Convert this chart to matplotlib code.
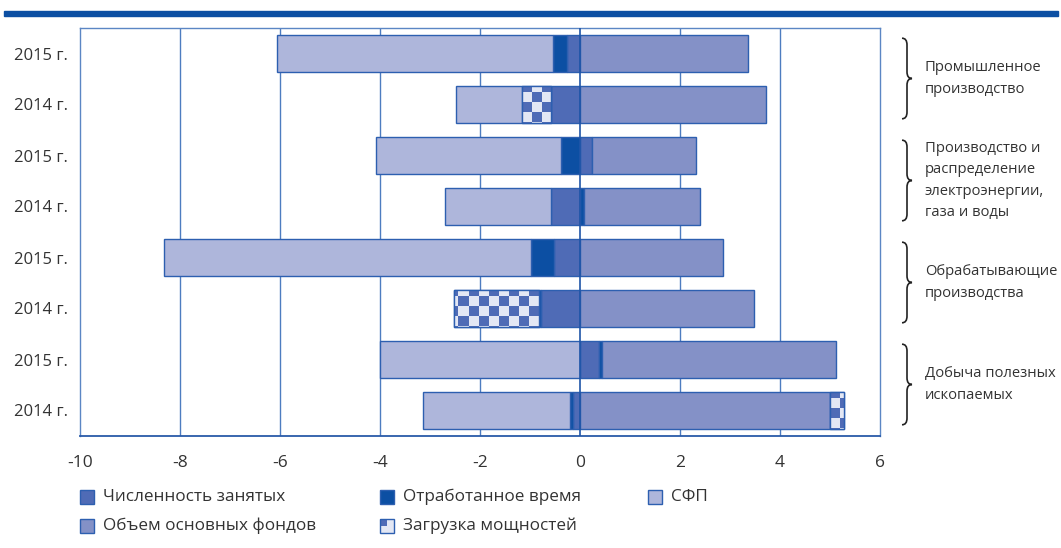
import numpy as np
import matplotlib
matplotlib.use("Agg")
import matplotlib.pyplot as plt
from matplotlib.patches import Rectangle, PathPatch
from matplotlib.path import Path
from matplotlib.colors import ListedColormap
import matplotlib.transforms as mtransforms

plt.rcParams['font.family'] = ['Open Sans', 'DejaVu Sans']

# ---- data (top to bottom) ----
year_labels = ["2015 г.", "2014 г.", "2015 г.", "2014 г.",
               "2015 г.", "2014 г.", "2015 г.", "2014 г."]
group_labels = ["Промышленное\nпроизводство",
                "Производство и\nраспределение\nэлектроэнергии,\nгаза и воды",
                "Обрабатывающие\nпроизводства",
                "Добыча полезных\nископаемых"]
chislennost = [-0.27, -0.58, 0.23, -0.58, -0.53, -0.79, 0.38, -0.15]
otrab_vremya = [-0.28, 0.00, -0.39, 0.08, -0.45, -0.04, 0.05, -0.05]
obem_fondov = [3.36, 3.72, 2.09, 2.32, 2.86, 3.48, 4.69, 5.00]
zagruzka = [0.00, -0.59, 0.00, 0.00, 0.00, -1.69, 0.00, 0.28]
sfp = [-5.51, -1.32, -3.69, -2.13, -7.34, 0.00, -4.00, -2.94]
xticks = [-10, -8, -6, -4, -2, 0, 2, 4, 6]

series_names = ["Численность занятых", "Отработанное время", "СФП",
                "Объем основных фондов", "Загрузка мощностей"]

C_CHISL = "#4f6bb6"
C_OTRAB = "#0c4fa3"
C_SFP = "#aeb6db"
C_OBEM = "#8491c7"
C_LIGHT = "#e3e7f4"
EDGE = "#2d5fb0"
GRID = "#4d7cc0"

W, H = 1061, 548
fig = plt.figure(figsize=(W / 100, H / 100), dpi=100)
ax = fig.add_axes([80 / W, 1 - 436 / H, 800 / W, 408 / H])

n = len(year_labels)
y = np.arange(n)
bh = 0.74

stack_order = [(chislennost, C_CHISL, False),
               (otrab_vremya, C_OTRAB, False),
               (obem_fondov, C_OBEM, False),
               (zagruzka, None, True),
               (sfp, C_SFP, False)]

pos = np.zeros(n)
neg = np.zeros(n)
checker_segments = []
for vals, col, checker in stack_order:
    vals = np.asarray(vals, dtype=float)
    left = np.where(vals >= 0, pos, neg)
    for i in range(n):
        if vals[i] == 0:
            continue
        if checker:
            rect = ax.barh(y[i], vals[i], left=left[i], height=bh, color=C_LIGHT,
                           edgecolor=EDGE, linewidth=1.0, zorder=3)[0]
            checker_segments.append((left[i], left[i] + vals[i], y[i], rect))
        else:
            ax.barh(y[i], vals[i], left=left[i], height=bh, color=col,
                    edgecolor=EDGE, linewidth=1.0, zorder=3)
    pos = np.where(vals >= 0, pos + vals, pos)
    neg = np.where(vals < 0, neg + vals, neg)

ax.set_xlim(-10, 6)
ax.set_ylim(n - 0.5, -0.5)

# checker pattern for "Загрузка мощностей"
cell_x = 0.2   # ~10 px
cell_y = 0.196
cmap = ListedColormap([C_CHISL, C_LIGHT])
for x0, x1, yc, rect in checker_segments:
    xa, xb = min(x0, x1), max(x0, x1)
    ya, yb = yc - bh / 2, yc + bh / 2
    nx = int(np.ceil((xb - xa) / cell_x)) + 2
    ny = int(np.ceil((yb - ya) / cell_y)) + 2
    ii, jj = np.meshgrid(np.arange(nx), np.arange(ny))
    board = ((ii + jj) % 2).astype(float)
    if x0 > x1:
        ex0 = x0 - nx * cell_x
        ex1 = x0
    else:
        ex0 = x0
        ex1 = x0 + nx * cell_x
    ey0 = ya - 0.35 * cell_y
    ey1 = ey0 + ny * cell_y
    im = ax.imshow(board, cmap=cmap, extent=[ex0, ex1, ey1, ey0], aspect='auto',
                   interpolation='nearest', zorder=3.5, origin='upper')
    im.set_clip_path(rect)
    ax.add_patch(Rectangle((xa, ya), xb - xa, yb - ya, fill=False,
                           edgecolor=EDGE, linewidth=1.0, zorder=3.6))

# grid and zero line
for xt in xticks[1:-1]:
    if xt == 0:
        ax.axvline(0, color="#1f55a8", linewidth=1.2, zorder=4)
    else:
        ax.axvline(xt, color=GRID, linewidth=1.0, zorder=1)

ax.set_xticks(xticks)
ax.set_xticklabels([str(t) for t in xticks], fontsize=12.5, color="#333333")
ax.set_yticks(y)
ax.set_yticklabels(year_labels, fontsize=12, color="#333333")
ax.tick_params(axis='both', length=0)
ax.tick_params(axis='x', pad=14)
ax.tick_params(axis='y', pad=8.6)
for side in ["left", "right", "top"]:
    ax.spines[side].set_color("#5b86c4")
    ax.spines[side].set_linewidth(1.0)
ax.spines["bottom"].set_color("#2a5aa8")
ax.spines["bottom"].set_linewidth(1.3)

# top band
fig.patches.append(Rectangle((4 / W, 1 - 16 / H), 1054 / W, 5.5 / H,
                             transform=fig.transFigure, color="#0c4fa3"))

# braces and group labels
trans = mtransforms.blended_transform_factory(ax.transAxes, ax.transData)
bx0 = (902 - 80) / 800
bw = 5 / 800
r = 0.13
for g, label in enumerate(group_labels):
    top = 2 * g - 0.3
    bot = 2 * g + 1 + 0.28
    mid = (top + bot) / 2
    verts = [(bx0, top), (bx0 + bw, top), (bx0 + bw, top + r),
             (bx0 + bw, mid - r),
             (bx0 + bw, mid), (bx0 + 2 * bw, mid),
             (bx0 + bw, mid), (bx0 + bw, mid + r),
             (bx0 + bw, bot - r),
             (bx0 + bw, bot), (bx0, bot)]
    codes = [Path.MOVETO, Path.CURVE3, Path.CURVE3, Path.LINETO,
             Path.CURVE3, Path.CURVE3, Path.CURVE3, Path.CURVE3,
             Path.LINETO, Path.CURVE3, Path.CURVE3]
    pp = PathPatch(Path(verts, codes), transform=trans, fill=False,
                   edgecolor="#222222", linewidth=1.2, clip_on=False)
    ax.add_patch(pp)
    ax.text((925 - 80) / 800, mid, label, transform=trans, ha='left', va='center',
            fontsize=10.6, color="#333333", linespacing=1.6, clip_on=False)

# legend (manual)
legend_items = [
    (80, 497, C_CHISL, False, series_names[0]),
    (380, 497, C_OTRAB, False, series_names[1]),
    (648, 497, C_SFP, False, series_names[2]),
    (80, 526, C_OBEM, False, series_names[3]),
    (380, 526, None, True, series_names[4]),
]
sq = 14
for lx, ly, col, chk, name in legend_items:
    fx, fy = lx / W, 1 - (ly + sq / 2) / H
    if chk:
        fig.patches.append(Rectangle((fx, fy), sq / W, sq / H, transform=fig.transFigure,
                                     facecolor=C_LIGHT, edgecolor="none"))
        fig.patches.append(Rectangle((fx, fy + sq / 2 / H), sq / 2 / W, sq / 2 / H,
                                     transform=fig.transFigure, facecolor=C_CHISL,
                                     edgecolor="none"))
        fig.patches.append(Rectangle((fx, fy), sq / W, sq / H, transform=fig.transFigure,
                                     fill=False, edgecolor=EDGE, linewidth=1.0))
    else:
        fig.patches.append(Rectangle((fx, fy), sq / W, sq / H, transform=fig.transFigure,
                                     facecolor=col, edgecolor=EDGE, linewidth=1.0))
    fig.text((lx + 23) / W, 1 - ly / H, name, ha='left', va='center',
             fontsize=12.3, color="#333333")

fig.savefig("out.png", dpi=100)
